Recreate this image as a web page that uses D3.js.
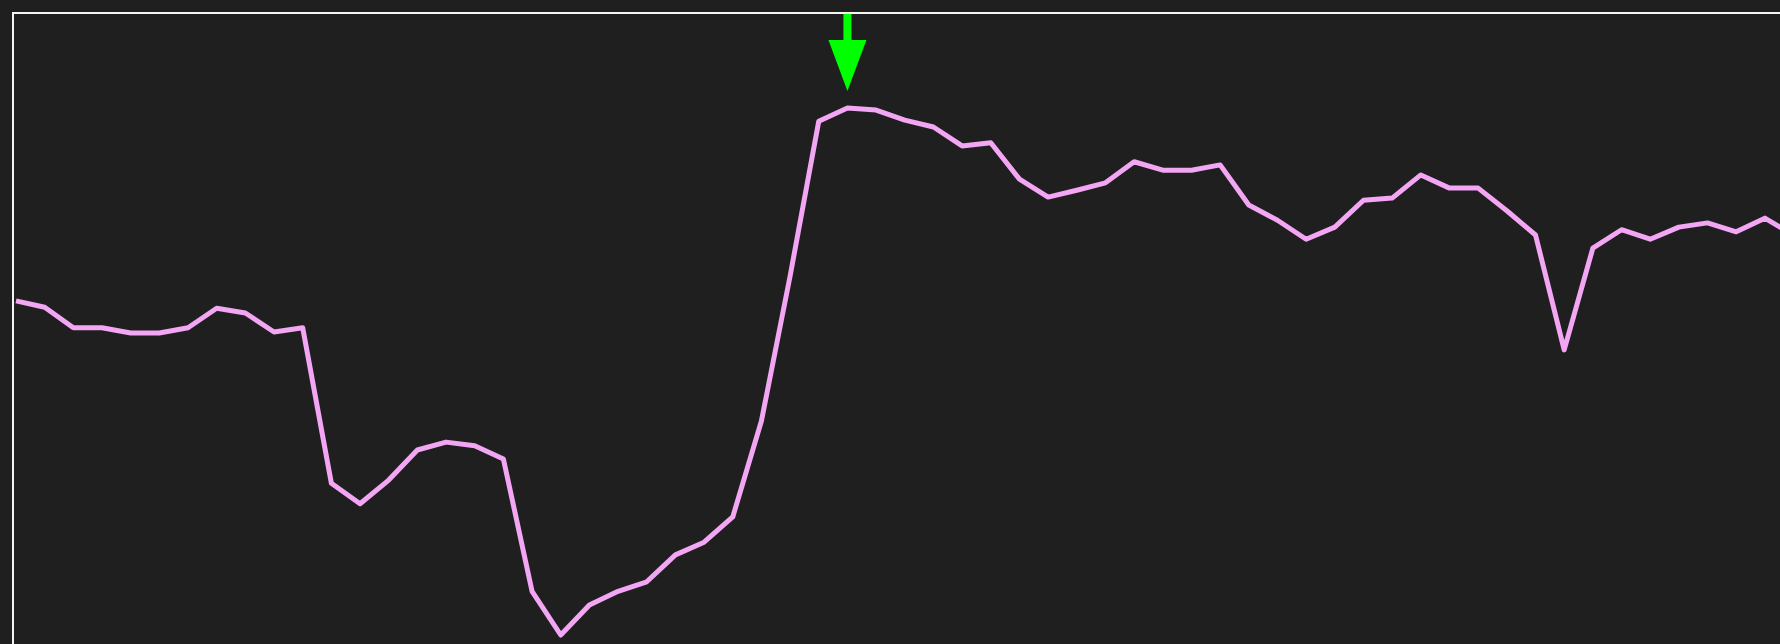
<!DOCTYPE html>
<html>
<head>
<meta charset="utf-8">
<script src="https://cdn.jsdelivr.net/npm/d3@7"></script>
<style>
  html, body { margin: 0; padding: 0; background: #1f1f1f; overflow: hidden; }
</style>
</head>
<body>
<div id="chart"></div>
<script>
// Series values (normalised 0-100)
const values = [
  63.4, 62.2, 58.3, 58.3, 57.3, 57.3, 58.3, 62.0, 61.1, 57.5,
  58.3, 28.8, 24.9, 29.4, 35.1, 36.6, 35.9, 33.4, 8.3, 0.0,
  5.7, 8.3, 10.1, 15.2, 17.6, 22.4, 40.6, 68.1, 97.5, 100.0,
  99.6, 97.7, 96.4, 92.8, 93.4, 86.5, 83.1, 84.4, 85.8, 89.8,
  88.2, 88.2, 89.2, 81.6, 78.7, 75.1, 77.4, 82.5, 82.9, 87.3,
  84.8, 84.8, 80.5, 75.9, 54.1, 73.4, 76.9, 75.1, 77.4, 78.2,
  76.5, 79.1, 75.9
]
const indexes = values.map((d, i) => i)

// Marker position (index of the highlighted point)
const markerIndex = 29

// Create SVG
const width = 1780
const height = 644
const svg = d3.select('#chart').append('svg')
  .attr('width', width)
  .attr('height', height)

// Frame
svg.append('rect')
  .attr('x', 13)
  .attr('y', 13)
  .attr('width', width)
  .attr('height', height)
  .attr('fill', 'none')
  .attr('stroke', '#f4f4f4')
  .attr('stroke-width', 2)

// Scales
const x = d3.scaleLinear().domain([0, values.length - 1]).range([16, 16 + 28.67 * (values.length - 1)])
const y = d3.scaleLinear().domain([0, 100]).range([635, 108])

// Line
const line = d3.line()
  .x((d, i) => x(indexes[i]))
  .y((d) => y(d))

svg.append('path')
  .datum(values)
  .attr('d', line)
  .attr('fill', 'none')
  .attr('stroke', '#f3a6f3')
  .attr('stroke-width', 5)
  .attr('stroke-linejoin', 'round')

// Green arrow over the marker
const mx = x(markerIndex)
const tipY = y(values[markerIndex]) - 17
const arrow = svg.append('g').attr('fill', '#00ff00')
arrow.append('rect')
  .attr('x', mx - 4)
  .attr('y', 14)
  .attr('width', 8)
  .attr('height', tipY - 50 - 14 + 1)
arrow.append('path')
  .attr('d', `M${mx - 19},${tipY - 51} L${mx + 19},${tipY - 51} L${mx},${tipY} Z`)
</script>
</body>
</html>
